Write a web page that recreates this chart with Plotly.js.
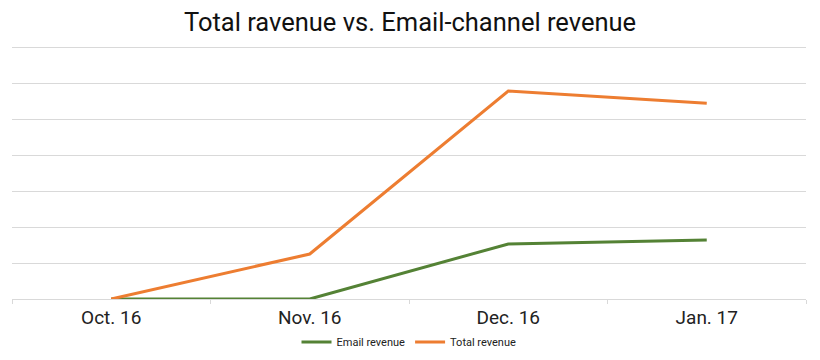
<!DOCTYPE html>
<html>
<head>
<meta charset="utf-8">
<script src="https://cdn.plot.ly/plotly-3.0.1.min.js"></script>
<style>html,body{margin:0;padding:0;background:#fff;}#chart{width:820px;height:360px;}</style>
</head>
<body>
<div id="chart"></div>
<script>
var months = ["Oct. 16", "Nov. 16", "Dec. 16", "Jan. 17"];
var emailRevenue = [0, 0, 1.53, 1.64];
var totalRevenue = [0, 1.25, 5.78, 5.44];

var traces = [
  {x: months, y: emailRevenue, name: "Email revenue", type: "scatter", mode: "lines",
   line: {color: "#548235", width: 3}},
  {x: months, y: totalRevenue, name: "Total revenue", type: "scatter", mode: "lines",
   line: {color: "#ED7D31", width: 3}}
];

var layout = {
  width: 820, height: 360,
  margin: {l: 12, r: 14, t: 46, b: 61, autoexpand: false},
  paper_bgcolor: "#fff", plot_bgcolor: "#fff",
  font: {family: "Roboto, sans-serif", color: "#222"},
  title: {text: "Total ravenue vs. Email-channel revenue", font: {size: 25.5, color: "#111", family: "Roboto, sans-serif", weight: 400},
          x: 0.5, xanchor: "center", y: 0.94, yanchor: "middle"},
  xaxis: {type: "category", range: [-0.5, 3.5], showgrid: false, showline: true, linecolor: "#d9d9d9", linewidth: 1,
          ticks: "outside", tickson: "boundaries", ticklen: 4, tickcolor: "#d9d9d9",
          ticklabelstandoff: 1,
          tickfont: {size: 19, color: "#222"}, zeroline: false},
  yaxis: {range: [0, 7.03], dtick: 1, showgrid: true, gridcolor: "#d9d9d9", gridwidth: 1,
          showticklabels: false, zeroline: false, ticks: ""},
  showlegend: true,
  legend: {orientation: "h", x: 0.5, xanchor: "center", y: -0.17, yanchor: "middle",
           font: {size: 11, color: "#222"}, itemwidth: 30, tracegroupgap: 0}
};

Plotly.newPlot("chart", traces, layout, {displayModeBar: false, staticPlot: true});
</script>
</body>
</html>
